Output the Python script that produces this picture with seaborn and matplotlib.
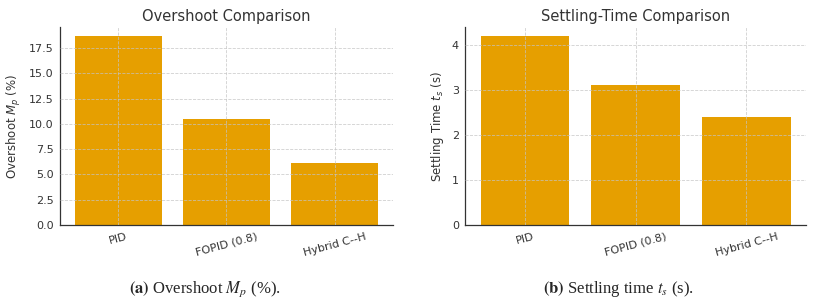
import matplotlib
matplotlib.use("Agg")
import matplotlib.pyplot as plt
import pandas as pd
import seaborn as sns

# controller names and measured metrics
controllers = ["PID", "FOPID (0.8)", "Hybrid C--H"]
overshoot = [18.7, 10.5, 6.1]
settling = [4.2, 3.1, 2.4]

df = pd.DataFrame({"controller": controllers,
                   "overshoot": overshoot,
                   "settling": settling})

sns.set_style("white")
plt.rcParams['font.family'] = ['DejaVu Sans']
plt.rcParams['mathtext.fontset'] = 'dejavusans'

bar_color = "#E69F00"
fig = plt.figure(figsize=(8.16, 3.02), dpi=100)
ax1 = fig.add_axes([0.0735, 0.255, 0.408, 0.656])
ax2 = fig.add_axes([0.570, 0.255, 0.418, 0.656])

panels = [
    (ax1, "overshoot", "Overshoot Comparison", r"Overshoot $M_p$ (%)"),
    (ax2, "settling", "Settling-Time Comparison", r"Settling Time $t_s$ (s)"),
]
for ax, col, title, ylabel in panels:
    sns.barplot(data=df, x="controller", y=col, color=bar_color,
                saturation=1, width=0.8, linewidth=0, ax=ax)
    ax.set_title(title, fontsize=10.5, color="#333333", pad=4)
    ax.set_xlabel("")
    ax.set_ylabel(ylabel, fontsize=8.5, color="#333333")
    ax.tick_params(axis="both", labelsize=8, length=2.5, width=0.7,
                   colors="#333333", pad=2)
    plt.setp(ax.get_xticklabels(), rotation=15)
    ax.grid(True, linestyle="--", linewidth=0.6, color="#c4c4c4", alpha=0.8)
    ax.set_axisbelow(False)
    ax.set_xlim(-0.54, 2.54)
    sns.despine(ax=ax)
    for s in ["left", "bottom"]:
        ax.spines[s].set_color("#333333")
        ax.spines[s].set_linewidth(0.9)

ax1.set_ylim(0, 19.6)
ax1.set_yticks([0, 2.5, 5, 7.5, 10, 12.5, 15, 17.5])
ax1.set_yticklabels(["0.0", "2.5", "5.0", "7.5", "10.0", "12.5", "15.0", "17.5"])
ax2.set_ylim(0, 4.4)
ax2.set_yticks([0, 1, 2, 3, 4])

# subfigure captions
fig.text(0.251, 0.03, r"$\mathbf{(a)}$ Overshoot $M_p$ (%).", ha="center",
         fontsize=12, family="Liberation Serif", math_fontfamily="stix")
fig.text(0.758, 0.03, r"$\mathbf{(b)}$ Settling time $t_s$ (s).", ha="center",
         fontsize=12, family="Liberation Serif", math_fontfamily="stix")

fig.savefig("out.png", dpi=100)
